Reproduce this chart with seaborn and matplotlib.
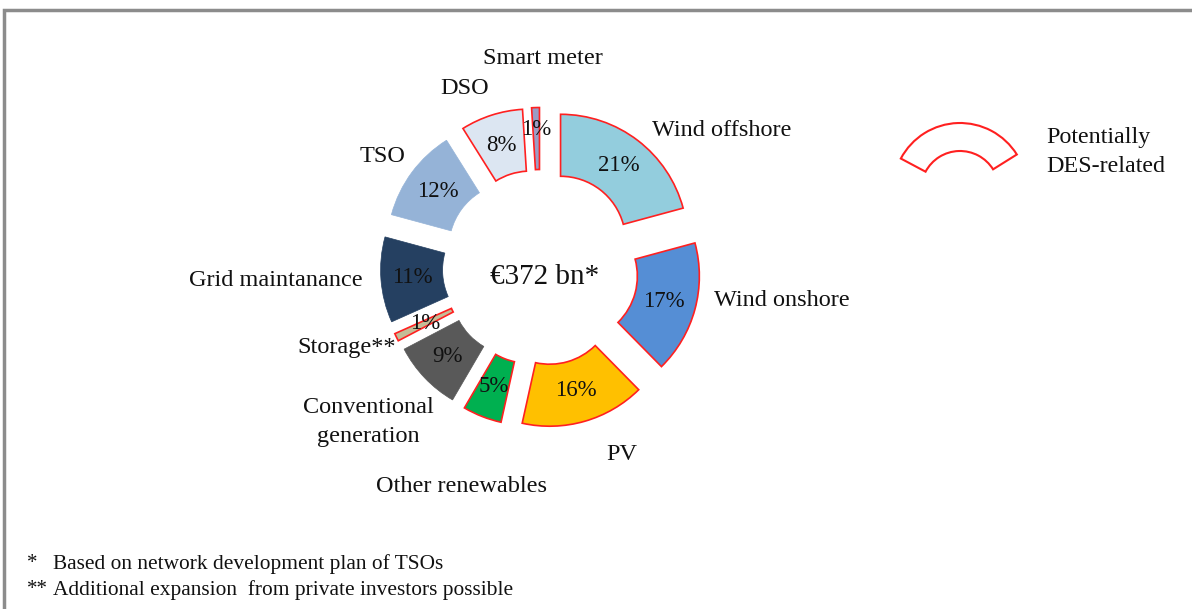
import matplotlib
matplotlib.use("Agg")
import matplotlib.pyplot as plt
from matplotlib.patches import Wedge, Rectangle
import seaborn as sns

# Investment split (percent of total)
categories = ["Wind offshore", "Wind onshore", "PV", "Other renewables",
              "Conventional generation", "Storage**", "Grid maintanance",
              "TSO", "DSO", "Smart meter"]
shares = [21, 17, 16, 5, 9, 1, 11, 12, 8, 1]
des_related = [True, True, True, True, False, True, False, False, True, True]
total_label = "€372 bn*"
footnotes = [("*", "Based on network development plan of TSOs"),
             ("**", "Additional expansion  from private investors possible")]

colors = ["#93CDDD", "#558ED5", "#FFC000", "#00B050", "#595959",
          "#C4BD97", "#254061", "#95B3D7", "#DCE6F2", "#9A9CC4"]

sns.set_theme(style="white")
plt.rcParams["font.family"] = ["Liberation Serif", "DejaVu Serif"]

W, H = 1192, 609
fig = plt.figure(figsize=(W / 100, H / 100), dpi=100)
ax = fig.add_axes([0, 0, 1, 1])


def px(x, y):
    """Pixel position (origin top-left) to axes data coordinates."""
    return x, H - y


cx, cy = px(540.5, 267.5)
R_OUT, RING, GAP = 127, 62, 33

wedges, _, pct_texts = ax.pie(
    shares, startangle=90, counterclock=False, radius=R_OUT,
    center=(cx, cy), explode=[GAP] * len(shares),
    wedgeprops=dict(width=RING, linewidth=1.2),
    autopct=lambda p: f"{round(p * sum(shares) / 100)}%",
    pctdistance=0.75, colors=colors,
    textprops=dict(fontsize=16.5, color="#111111"))

for w, flag, c in zip(wedges, des_related, colors):
    w.set_edgecolor("#FF2020" if flag else c)
    w.set_linewidth(1.2 if flag else 0.5)

# nudge the smart-meter percent label out a bit
sm_idx = categories.index("Smart meter")
x0, y0 = pct_texts[sm_idx].get_position()
pct_texts[sm_idx].set_position((x0, y0 + 10))

ax.set_xlim(0, W)
ax.set_ylim(0, H)
ax.set_aspect("auto")
ax.axis("off")

# category labels: (x, y, ha)
label_layout = {
    "Wind offshore": (652, 130, "left"),
    "Wind onshore": (714, 300, "left"),
    "PV": (622, 455, "center"),
    "Other renewables": (462, 487, "center"),
    "Conventional generation": (368, 422, "center"),
    "Storage**": (396, 348, "right"),
    "Grid maintanance": (363, 280, "right"),
    "TSO": (383, 157, "center"),
    "DSO": (465, 88, "center"),
    "Smart meter": (543, 58, "center"),
}
for name in categories:
    x, y, ha = label_layout[name]
    text = "Conventional\ngeneration" if name == "Conventional generation" else name
    ax.text(*px(x, y), text, ha=ha, va="center", fontsize=17.5,
            color="#111111", linespacing=1.45)

ax.text(*px(545, 277), total_label, ha="center", va="center",
        fontsize=21, color="#111111")

# legend swatch for DES-related wedges
ax.add_patch(Wedge(px(960, 190), 67, 32, 152, width=28, facecolor="none",
                   edgecolor="#FF2020", linewidth=1.5))
ax.text(*px(1046, 152), "Potentially\nDES-related", ha="left", va="center",
        fontsize=17.3, color="#111111", linespacing=1.45)

# footnotes
for i, (mark, note) in enumerate(footnotes):
    y = 564 + 26 * i
    ax.text(*px(27, y), mark, ha="left", va="center", fontsize=15,
            color="#111111")
    ax.text(*px(53, y), note, ha="left", va="center", fontsize=15.4,
            color="#111111")

# frame
ax.add_patch(Rectangle(px(4, 700), 1300, 690, facecolor="none",
                       edgecolor="#8C8C8C", linewidth=2.5))

fig.savefig("out.png", dpi=100, facecolor="white")
